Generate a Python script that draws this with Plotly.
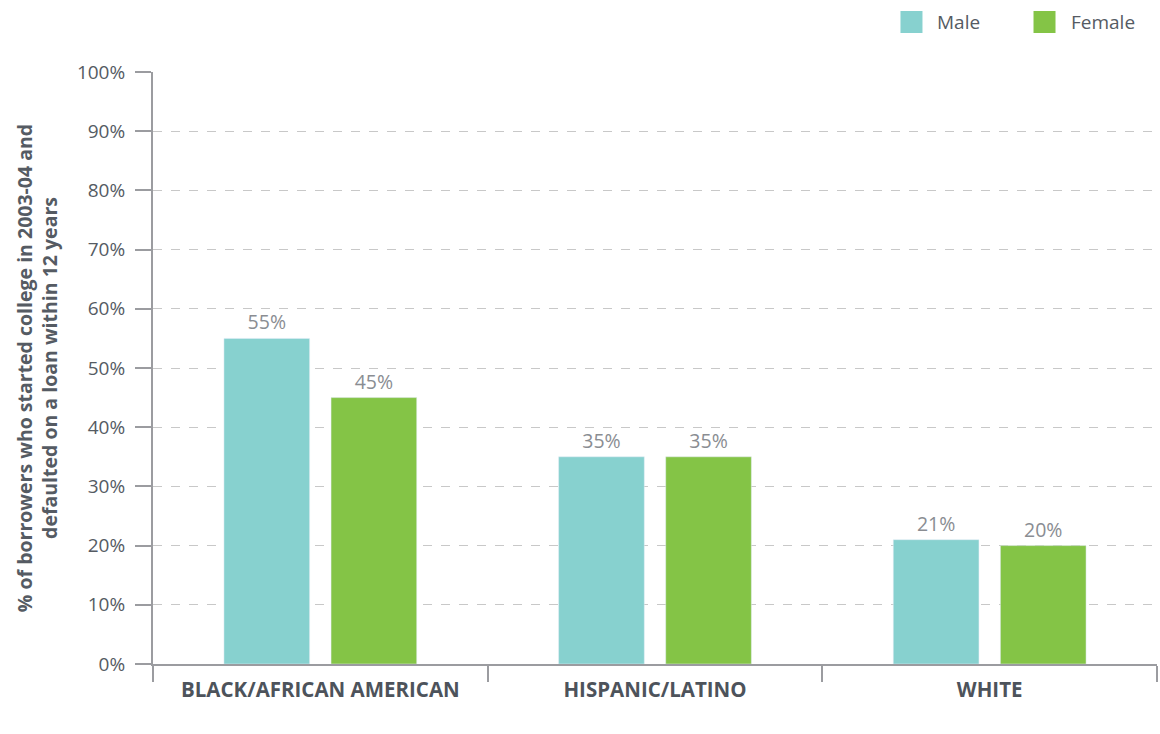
import plotly.graph_objects as go

categories = ["BLACK/AFRICAN AMERICAN", "HISPANIC/LATINO", "WHITE"]
male = [55, 35, 21]
female = [45, 35, 20]
series_names = ["Male", "Female"]
colors = ["#87d1cf", "#84c446"]
y_ticks = [0, 10, 20, 30, 40, 50, 60, 70, 80, 90, 100]

FONT = "'Open Sans', sans-serif"
fig = go.Figure()
for name, vals, col in zip(series_names, [male, female], colors):
    fig.add_trace(go.Bar(
        x=categories, y=vals, name=name, marker_color=col,
        text=[f"{v}%" for v in vals], textposition="outside",
        textfont=dict(color="#8a8d92", size=19.5, family=FONT),
        cliponaxis=False, showlegend=False,
    ))

# custom legend (squares + labels) in the top margin
legend_x = [0.7445, 0.877]
for name, col, lx in zip(series_names, colors, legend_x):
    fig.add_shape(type="rect", xref="paper", yref="paper",
                  x0=lx, x1=lx + 22 / 1004, y0=1 + (72 - 33) / 592, y1=1 + (72 - 11) / 592,
                  fillcolor=col, line_width=0)
    fig.add_annotation(text=name, xref="paper", yref="paper",
                       x=lx + 35 / 1004, y=1 + (72 - 22) / 592, xanchor="left", yanchor="middle",
                       showarrow=False, font=dict(size=19, color="#555b63", family=FONT))

fig.update_layout(
    width=1160, height=734,
    margin=dict(l=153, r=3, t=72, b=70, autoexpand=False),
    paper_bgcolor="white", plot_bgcolor="white",
    barmode="group", bargap=0.36, bargroupgap=0.2,
    font=dict(family=FONT, color="#555b63", size=19),
    showlegend=False,
)
fig.update_xaxes(
    showline=True, linecolor="#9b9ca0", linewidth=2,
    ticks="outside", tickson="boundaries", ticklen=16, tickwidth=2, tickcolor="#9b9ca0",
    tickfont=dict(size=20.5, color="#4d535b", family=FONT, weight="bold"),
    ticklabelstandoff=6,
    showgrid=False,
)
fig.update_yaxes(
    range=[0, 100], tickvals=y_ticks, ticktext=[f"{v}%" for v in y_ticks],
    showline=True, linecolor="#9b9ca0", linewidth=2,
    ticks="outside", ticklen=16, tickwidth=2, tickcolor="#9b9ca0",
    tickfont=dict(size=19, color="#555b63"),
    ticklabelstandoff=6,
    showgrid=True, gridcolor="#c8c8c8", griddash="dash", gridwidth=1,
    zeroline=False,
    title=dict(text="% of borrowers who started college in 2003-04 and<br>defaulted on a loan within 12 years",
               font=dict(size=19.5, color="#555b63", family=FONT, weight="bold"), standoff=14),
)
fig.write_html("out.html", config={"displayModeBar": False},
               post_script="document.body.style.margin='0';")
